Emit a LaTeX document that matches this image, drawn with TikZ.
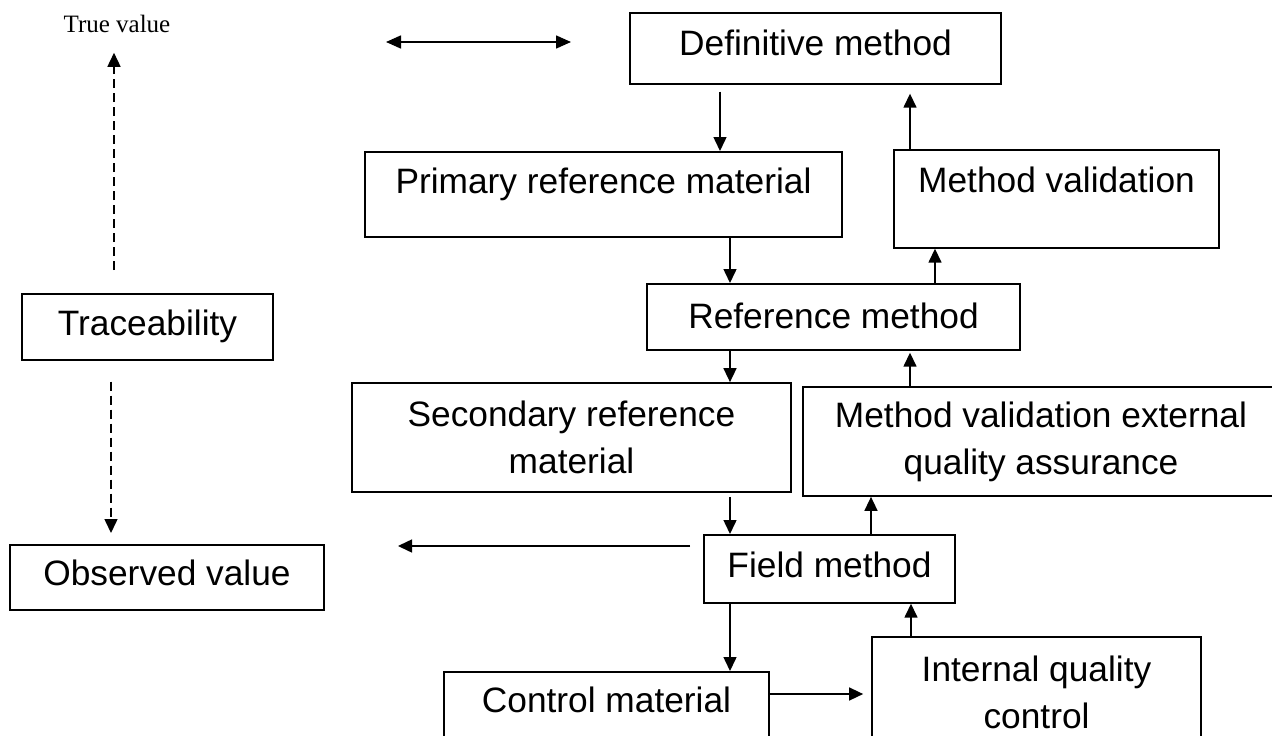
\documentclass[tikz,border=0pt]{standalone}
\usepackage{fontspec}
\setmainfont{Liberation Sans}
\newfontfamily\timesfont{Liberation Serif}
\usetikzlibrary{arrows.meta}
\tikzset{
  box/.style={draw, line width=1.7pt, inner sep=0pt, font=\fontsize{35.3}{47}\selectfont},
  onebox/.style={box, anchor=north},
  arr/.style={line width=1.5pt, -{Triangle[length=14pt,width=13pt]}},
  dblarr/.style={line width=1.6pt, {Triangle[length=15pt,width=13pt]}-{Triangle[length=15pt,width=13pt]}},
  darr/.style={arr, dash pattern=on 9pt off 5pt},
}
\begin{document}
\begin{tikzpicture}[x=1pt,y=-1pt]
\useasboundingbox (0,0) rectangle (1272,736);

% text and boxes
\node[font=\timesfont\fontsize{25}{30}\selectfont, anchor=base] (tv) at (117,32) {True value};
\node[onebox, minimum width=371pt, text height=43pt, text depth=28pt] (def) at (815.5,12) {Definitive method};
\node[onebox, minimum width=477pt, text height=42pt, text depth=43pt] (prim) at (603.5,151) {Primary reference material};
\node[onebox, minimum width=325pt, text height=43pt, text depth=55pt] (mv) at (1056.5,149) {Method validation};
\node[onebox, minimum width=373pt, text height=45pt, text depth=21pt] (ref) at (833.5,283) {Reference method};
\node[onebox, minimum width=251pt, text height=42pt, text depth=24pt] (trace) at (147.5,293) {Traceability};
\node[onebox, minimum width=314pt, text height=41pt, text depth=24pt] (obs) at (167,544) {Observed value};
\node[onebox, minimum width=251pt, text height=43pt, text depth=25pt] (field) at (829.5,534) {Field method};
\node[onebox, minimum width=325pt, text height=41pt, text depth=100pt] (ctrl) at (606.5,671) {Control material};
\node[box, align=center, minimum width=439pt, minimum height=109pt] (sec) at (571.5,437.5) {Secondary reference\\material};
\node[box, align=center, minimum width=476pt, minimum height=109pt] (mveqa) at (1041,441.5) {Method validation external\\quality assurance};
\node[box, align=center, minimum width=329pt, minimum height=111.2pt] (iqc) at (1036.5,692.6) {Internal quality\\control};

% helper coordinates
\coordinate (x111) at (111,0);
\coordinate (x114) at (114,0);
\coordinate (x720) at (720,0);
\coordinate (x730) at (730,0);
\coordinate (x871) at (871,0);
\coordinate (x910) at (910,0);
\coordinate (x911) at (911,0);
\coordinate (x935) at (935,0);
\coordinate (y694) at (0,694);
\coordinate (da1) at (386,42);
\coordinate (da2) at (571,42);
\coordinate (la) at (398,546);

% connectors
\draw[dblarr] (da1) -- (da2);
\draw[arr, shorten <=7pt] (def.south -| x720) -- (prim.north -| x720);
\draw[arr, shorten >=9pt] (mv.north -| x910) -- (def.south -| x910);
\draw[arr] (prim.south -| x730) -- (ref.north -| x730);
\draw[arr] (ref.north -| x935) -- (mv.south -| x935);
\draw[arr] (ref.south -| x730) -- (sec.north -| x730);
\draw[arr, shorten >=2pt] (mveqa.north -| x910) -- (ref.south -| x910);
\draw[arr, shorten <=4pt] (sec.south -| x730) -- (field.north -| x730);
\draw[arr] (field.north -| x871) -- (mveqa.south -| x871);
\draw[arr, shorten <=13pt] (field.west |- la) -- (la);
\draw[arr] (field.south -| x730) -- (ctrl.north -| x730);
\draw[arr, shorten >=8pt] (ctrl.east |- y694) -- (iqc.west |- y694);
\draw[arr] (iqc.north -| x911) -- (field.south -| x911);
\draw[darr, shorten <=23pt, shorten >=17pt] (trace.north -| x114) -- (tv.south -| x114);
\draw[darr, shorten <=21pt, shorten >=11pt] (trace.south -| x111) -- (obs.north -| x111);
\end{tikzpicture}
\end{document}
